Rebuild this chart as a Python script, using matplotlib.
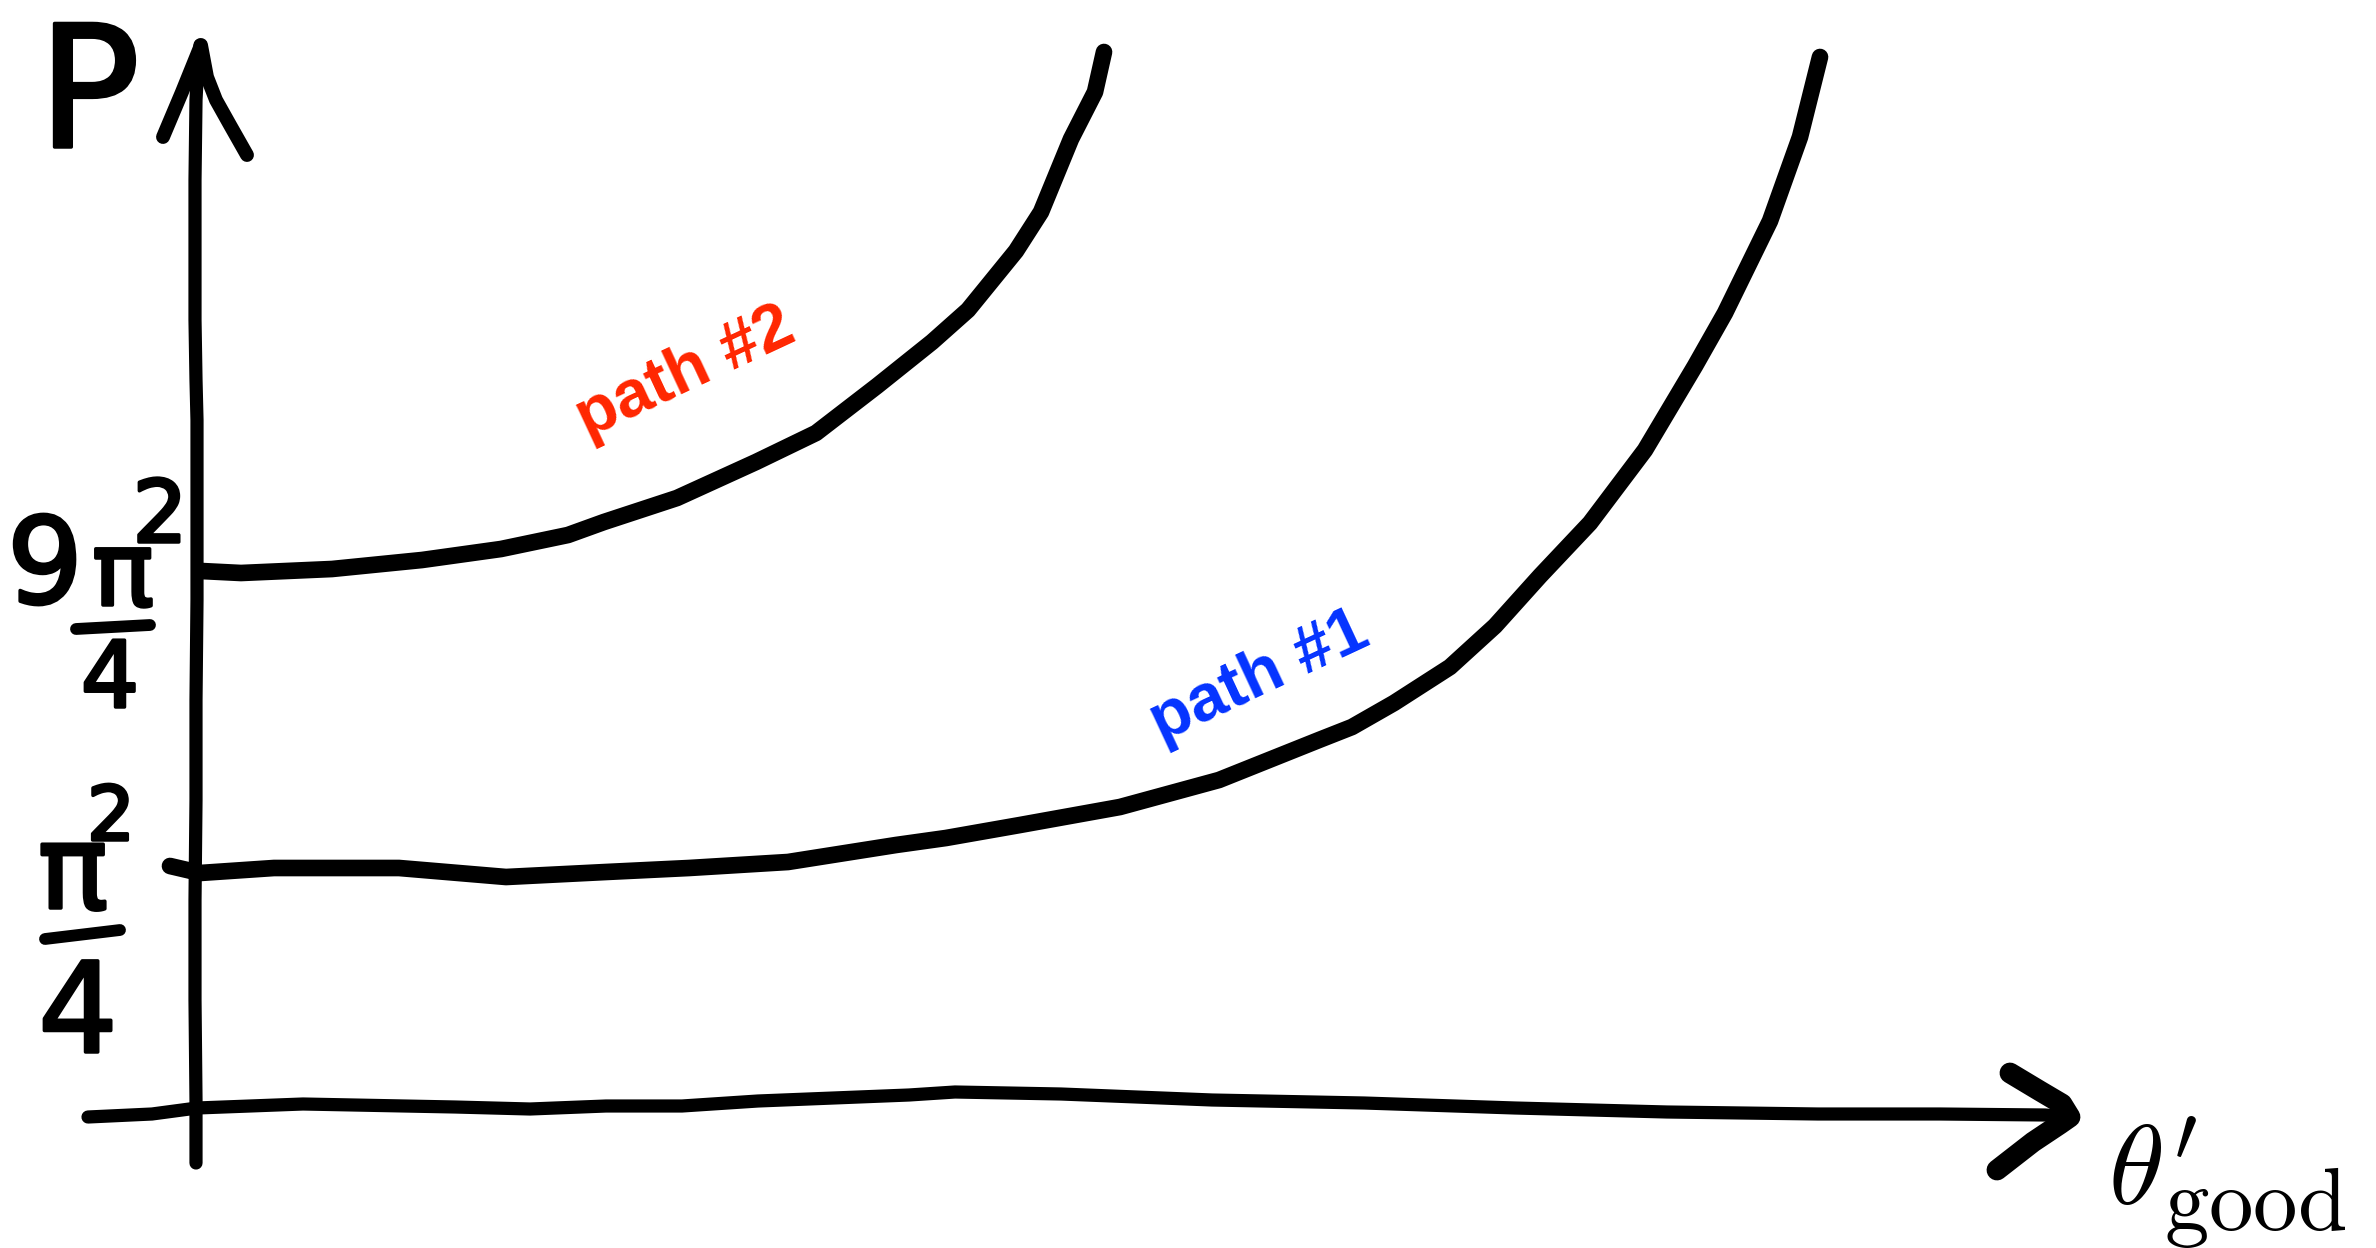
import matplotlib.pyplot as plt
import matplotlib.patheffects as pe

# sketch coordinates: x to the right, y down (rows of the 2376x1248 canvas)
yaxis_x = [196, 196, 195, 195, 196, 196, 197, 197, 197, 197, 196, 195, 195, 195, 196, 198, 200]
yaxis_y = [1163, 1100, 1000, 900, 800, 700, 600, 545, 470, 420, 380, 320, 250, 180, 100, 62, 45]
yhead_x = [163, 182, 201, 207, 216, 230, 247]
yhead_y = [137, 92, 45, 77, 100, 125, 155]

xaxis_x = [88, 152, 197, 303, 455, 530, 606, 682, 758, 909, 955, 1061, 1212, 1364,
           1515, 1667, 1818, 1940, 2045, 2070]
xaxis_y = [1117, 1114, 1108, 1104, 1107, 1109, 1106, 1106, 1101, 1095, 1092, 1094, 1100,
           1103, 1108, 1112, 1114, 1114, 1115, 1117]
xhead_x = [2010, 2040, 2062, 2070, 2060, 2033, 1997]
xhead_y = [1073, 1091, 1104, 1117, 1124, 1142, 1170]

# path #1 starts at P = pi^2/4, path #2 at P = 9 pi^2/4
path1_x = [170, 200, 274, 399, 506, 606, 689, 788, 896, 946, 1020, 1120, 1219, 1319,
           1352, 1394, 1450, 1495, 1540, 1590, 1645, 1695, 1725, 1770, 1800, 1820]
path1_y = [866, 873, 868, 868, 877, 872, 868, 862, 845, 838, 825, 807, 780, 740,
           727, 703, 667, 626, 576, 523, 450, 366, 313, 221, 137, 57]
path2_x = [201, 241, 332, 422, 501, 568, 604, 677, 756, 816, 877, 932, 968, 1016,
           1041, 1071, 1095, 1104]
path2_y = [571, 573, 569, 560, 549, 535, 522, 498, 462, 433, 386, 342, 310, 251,
           212, 139, 92, 52]

# fraction bars of the two level labels
bar_hi_x = [76, 150]
bar_hi_y = [629, 625]
bar_lo_x = [45, 120]
bar_lo_y = [939, 930]

path_labels = ["path #1", "path #2"]
path_colors = ["#0433FF", "#FF2600"]

plt.rcParams["mathtext.fontset"] = "cm"


def hand(ax, x, y, s, size):
    # marker-like handwritten digits and letters
    ax.text(x, y, s, fontsize=size, ha="center", va="baseline",
            family=["Liberation Sans Narrow", "DejaVu Sans"],
            path_effects=[pe.withStroke(linewidth=2.5, foreground="black",
                                        capstyle="round", joinstyle="round")])


def main():
    fig = plt.figure(figsize=(23.76, 12.48), dpi=100)
    ax = fig.add_axes([0, 0, 1, 1])
    ax.set_xlim(0, 2376)
    ax.set_ylim(1248, 0)
    ax.axis("off")

    stroke = dict(color="black", solid_capstyle="round", solid_joinstyle="round")
    ax.plot(yaxis_x, yaxis_y, lw=9.5, **stroke)
    ax.plot(yhead_x, yhead_y, lw=10, **stroke)
    ax.plot(xaxis_x, xaxis_y, lw=9.5, **stroke)
    ax.plot(xhead_x, xhead_y, lw=15, **stroke)

    ax.plot(path1_x, path1_y, lw=12, **stroke)
    ax.plot(path2_x, path2_y, lw=12, **stroke)

    ax.plot(bar_hi_x, bar_hi_y, lw=8.5, **stroke)
    ax.plot(bar_lo_x, bar_lo_y, lw=8.5, **stroke)

    # axis names
    hand(ax, 89, 147, "P", 122)
    ax.text(2108, 1205, r"$\theta'$", fontsize=82, ha="left", va="baseline")
    ax.text(2164, 1230, r"$\mathrm{good}$", fontsize=64, ha="left", va="baseline")

    # 9 pi^2 / 4
    hand(ax, 45, 603, "9", 86)
    hand(ax, 123, 605, "π", 74)
    hand(ax, 160, 542, "2", 62)
    hand(ax, 110, 707, "4", 66)

    # pi^2 / 4
    hand(ax, 73, 908, "π", 84)
    hand(ax, 111, 840, "2", 54)
    hand(ax, 78, 1052, "4", 90)

    ax.text(1260, 678, path_labels[0], color=path_colors[0], fontsize=48,
            fontweight="bold", family="Liberation Sans", rotation=25,
            ha="center", va="center", rotation_mode="anchor")
    ax.text(686, 374, path_labels[1], color=path_colors[1], fontsize=48,
            fontweight="bold", family="Liberation Sans", rotation=25,
            ha="center", va="center", rotation_mode="anchor")

    fig.savefig("out.png", dpi=100)


if __name__ == "__main__":
    main()
